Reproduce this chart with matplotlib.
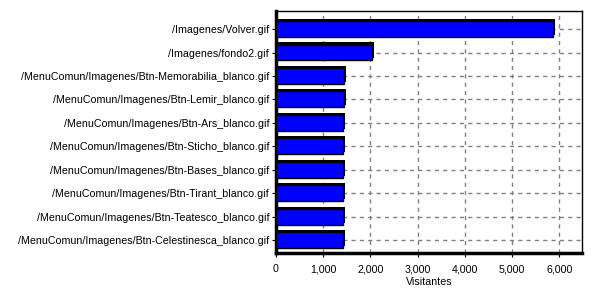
import matplotlib.pyplot as plt
import numpy as np

pages = [
    "/Imagenes/Volver.gif",
    "/Imagenes/fondo2.gif",
    "/MenuComun/Imagenes/Btn-Memorabilia_blanco.gif",
    "/MenuComun/Imagenes/Btn-Lemir_blanco.gif",
    "/MenuComun/Imagenes/Btn-Ars_blanco.gif",
    "/MenuComun/Imagenes/Btn-Sticho_blanco.gif",
    "/MenuComun/Imagenes/Btn-Bases_blanco.gif",
    "/MenuComun/Imagenes/Btn-Tirant_blanco.gif",
    "/MenuComun/Imagenes/Btn-Teatesco_blanco.gif",
    "/MenuComun/Imagenes/Btn-Celestinesca_blanco.gif",
]
visits = [5870, 2030, 1445, 1440, 1425, 1420, 1420, 1420, 1415, 1415]
xticks = [0, 1000, 2000, 3000, 4000, 5000, 6000]

plt.rcParams["font.family"] = ["Liberation Sans", "DejaVu Sans"]
plt.rcParams["font.size"] = 7.7

fig = plt.figure(figsize=(6, 3), dpi=100)
ax = fig.add_axes([276 / 600, 47 / 300, 306 / 600, 242 / 300])

y = np.arange(len(pages))
h = 0.68
dx, dy = 42, 0.09

# sombra (efecto 3D)
ax.barh(y - dy, visits, height=h, left=dx, color="black", zorder=3)
ax.barh(y, visits, height=h, color="#0000ff", edgecolor="black",
        linewidth=1.0, zorder=4)

ax.set_xlim(0, 6480)
ax.set_ylim(len(pages) - 1 + 0.55, -0.77)
ax.set_yticks(y)
ax.set_yticklabels(pages)
ax.set_xticks(xticks)
ax.set_xticklabels([f"{v:,}" for v in xticks])
ax.set_xlabel("Visitantes", labelpad=2)

ax.grid(True, linestyle=(0, (3, 3)), color="#808080", linewidth=1.0, zorder=0)
ax.set_axisbelow(True)
ax.tick_params(axis="y", length=3, width=0.8, pad=2, colors="black")
ax.tick_params(axis="x", length=3, width=0.8, pad=5, colors="black")

for s in ["top", "right"]:
    ax.spines[s].set_linewidth(1.0)
for s in ["left", "bottom"]:
    ax.spines[s].set_linewidth(2.5)

fig.savefig("out.png", dpi=100)
